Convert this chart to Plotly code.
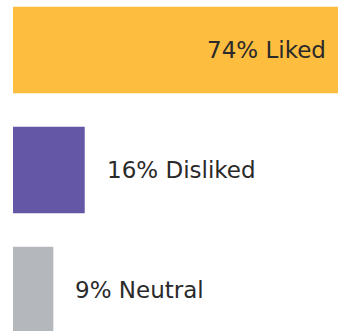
import plotly.graph_objects as go

# Survey response shares
categories = ["Liked", "Disliked", "Neutral"]
shares = [74, 16, 9]
colors = ["#FDBD3F", "#6457A5", "#B4B8BC"]

positions = list(range(len(categories)))

fig = go.Figure(
    go.Bar(
        x=shares,
        y=positions,
        orientation="h",
        width=0.72,
        marker=dict(color=colors, line=dict(width=0)),
        hoverinfo="skip",
    )
)

label_font = dict(family="DejaVu Sans", size=23, color="#2a2a2a")

annotations = []
for i, (cat, val) in enumerate(zip(categories, shares)):
    text = f"{val}% {cat}"
    if i == 0:
        # largest bar: label sits inside, right-aligned near the edge
        annotations.append(dict(x=1, xref="paper", y=i, yref="y", text=text,
                                xanchor="right", yanchor="middle", xshift=-10,
                                showarrow=False, font=label_font))
    else:
        annotations.append(dict(x=val, xref="x", y=i, yref="y", text=text,
                                xanchor="left", yanchor="middle", xshift=20,
                                showarrow=False, font=label_font))

fig.update_layout(
    width=338,
    height=331,
    margin=dict(l=13, r=0, t=0, b=0),
    paper_bgcolor="white",
    plot_bgcolor="white",
    showlegend=False,
    annotations=annotations,
    xaxis=dict(range=[0, 72.5], visible=False, fixedrange=True),
    yaxis=dict(range=[2.342, -0.417], visible=False, fixedrange=True),
)

fig.write_html("out.html", config={"displayModeBar": False})
